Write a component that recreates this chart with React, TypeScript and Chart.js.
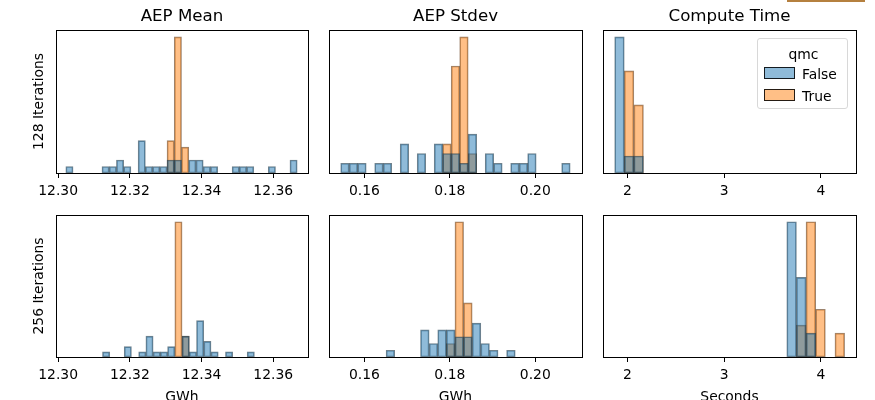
import React, { useEffect, useRef } from 'react';
import { Chart, registerables } from 'chart.js';

Chart.register(...registerables);

const FONT = "'DejaVu Sans', sans-serif";

// ---- text ----
const colTitles = ['AEP Mean', 'AEP Stdev', 'Compute Time'];
const rowLabels = ['128 Iterations', '256 Iterations'];
const xAxisLabels = ['GWh', 'GWh', 'Seconds'];
const legendTitle = 'qmc';
const hueLabels = ['False', 'True'];

// ---- x axes (shared per column) ----
const xLimMean = [12.2994, 12.3697];
const xLimStdev = [0.15172, 0.21093];
const xLimTime = [1.748, 4.363];
const xTicksMean = [12.3, 12.32, 12.34, 12.36];
const xTicksStdev = [0.16, 0.18, 0.2];
const xTicksTime = [2, 3, 4];
const xTickLabelsMean = ['12.30', '12.32', '12.34', '12.36'];
const xTickLabelsStdev = ['0.16', '0.18', '0.20'];
const xTickLabelsTime = ['2', '3', '4'];

// ---- histogram bins (first bin edge, bin width) ----
const bins128Mean = [12.30214, 0.002017];
const bins128Stdev = [0.15446, 0.001989];
const bins128Time = [1.8687, 0.099];
const bins256Mean = [12.31237, 0.002018];
const bins256Stdev = [0.16508, 0.002015];
const bins256Time = [3.6476, 0.0996];

// ---- counts per bin, qmc = False / True ----
const mean128False = [1, 0, 0, 0, 0, 1, 1, 2, 1, 0, 5, 1, 1, 1, 2, 2, 0, 2, 2, 1, 1, 0, 0, 1, 1, 1, 0, 0, 1, 0, 0, 2];
const mean128True = [0, 0, 0, 0, 0, 0, 0, 0, 0, 0, 0, 0, 0, 0, 5, 21, 4, 0, 0, 0, 0, 0, 0, 0, 0, 0, 0, 0, 0, 0, 0, 0];
const stdev128False = [1, 1, 1, 0, 1, 1, 0, 3, 0, 2, 0, 3, 2, 2, 1, 4, 0, 2, 1, 0, 1, 1, 2, 0, 0, 0, 1];
const stdev128True = [0, 0, 0, 0, 0, 0, 0, 0, 0, 0, 0, 0, 3, 11, 14, 2, 0, 0, 0, 0, 0, 0, 0, 0, 0, 0, 0];
const time128False = [24, 3, 3];
const time128True = [0, 18, 12];
const mean256False = [1, 0, 0, 2, 0, 1, 4, 1, 1, 2, 0, 4, 1, 7, 3, 1, 0, 1, 0, 0, 1];
const mean256True = [0, 0, 0, 0, 0, 0, 0, 0, 0, 0, 26, 4, 0, 0, 0, 0, 0, 0, 0, 0, 0];
const stdev256False = [1, 0, 0, 0, 4, 2, 4, 4, 3, 3, 5, 2, 1, 0, 1];
const stdev256True = [0, 0, 0, 0, 0, 0, 0, 2, 20, 8, 0, 0, 0, 0, 0];
const time256False = [17, 10, 3, 0, 0, 0];
const time256True = [0, 4, 17, 6, 0, 3];

const columns = [
  { lim: xLimMean, ticks: xTicksMean, labels: xTickLabelsMean },
  { lim: xLimStdev, ticks: xTicksStdev, labels: xTickLabelsStdev },
  { lim: xLimTime, ticks: xTicksTime, labels: xTickLabelsTime },
];
const panels = [
  [
    { bins: bins128Mean, f: mean128False, t: mean128True },
    { bins: bins128Stdev, f: stdev128False, t: stdev128True },
    { bins: bins128Time, f: time128False, t: time128True },
  ],
  [
    { bins: bins256Mean, f: mean256False, t: mean256True },
    { bins: bins256Stdev, f: stdev256False, t: stdev256True },
    { bins: bins256Time, f: time256False, t: time256True },
  ],
];

// ---- layout (styling) ----
const frameL = [56, 329, 603];
const frameW = [252, 253, 253];
const frameT = [30, 215];
const frameH = [143, 142];
const PAD_L = 50, PAD_T = 30, PAD_R = 20, PAD_B = 50;
const Y_TITLE_W = 25;

const BLUE_FILL = 'rgba(31,119,180,0.5)';
const ORANGE_FILL = 'rgba(255,127,14,0.5)';
const BLUE_EDGE = 'rgba(25,53,71,0.62)';
const ORANGE_EDGE = 'rgba(95,55,20,0.62)';

const framePlugin = {
  id: 'frame',
  afterDatasetsDraw(chart: any) {
    const { ctx, chartArea: a } = chart;
    ctx.save();
    ctx.strokeStyle = '#000';
    ctx.lineWidth = 1;
    ctx.strokeRect(Math.round(a.left) + 0.5, Math.round(a.top) + 0.5, Math.round(a.right - a.left), Math.round(a.bottom - a.top));
    ctx.restore();
  },
};

function Panel({ row, col }: { row: number; col: number }) {
  const ref = useRef<HTMLCanvasElement>(null);
  const cw = PAD_L + frameW[col] + PAD_R;
  const ch = PAD_T + frameH[row] + PAD_B;
  useEffect(() => {
    const p = panels[row][col];
    const c = columns[col];
    const [start, width] = p.bins;
    const centers = p.f.map((_: number, i: number) => start + width * (i + 0.5));
    const toData = (arr: number[]) => arr.map((v, i) => ({ x: centers[i], y: v === 0 ? null : v }));
    const yMax = Math.max(...p.f, ...p.t) * 1.05;
    const tickFont = { family: FONT, size: 13.9 };
    const chart = new Chart(ref.current as HTMLCanvasElement, {
      type: 'bar',
      data: {
        datasets: [
          {
            label: hueLabels[0],
            data: toData(p.f) as any,
            backgroundColor: BLUE_FILL,
            borderColor: BLUE_EDGE,
            borderWidth: 1,
            borderSkipped: false,
            grouped: false,
            barPercentage: 1,
            categoryPercentage: 1,
          },
          {
            label: hueLabels[1],
            data: toData(p.t) as any,
            backgroundColor: ORANGE_FILL,
            borderColor: ORANGE_EDGE,
            borderWidth: 1,
            borderSkipped: false,
            grouped: false,
            barPercentage: 1,
            categoryPercentage: 1,
          },
        ],
      },
      options: {
        responsive: false,
        animation: false,
        devicePixelRatio: 1,
        layout: {
          padding: {
            left: col === 0 ? PAD_L - Y_TITLE_W : PAD_L,
            right: PAD_R,
            top: row === 0 ? 0 : PAD_T,
            bottom: 0,
          },
        },
        plugins: {
          legend: { display: false },
          tooltip: { enabled: false },
          title: {
            display: row === 0,
            text: colTitles[col],
            color: '#000',
            font: { family: FONT, size: 16.67, weight: 'normal' },
            padding: { top: 6.5, bottom: 3.5 },
            fullSize: false,
          } as any,
        },
        scales: {
          x: {
            type: 'linear',
            min: c.lim[0],
            max: c.lim[1],
            offset: false,
            afterBuildTicks: (s: any) => {
              s.ticks = c.ticks.map((v) => ({ value: v }));
            },
            afterFit: (s: any) => {
              s.height = PAD_B;
            },
            grid: {
              display: true,
              drawOnChartArea: false,
              drawTicks: true,
              tickLength: 5,
              tickColor: '#000',
              offset: false,
              lineWidth: 1,
            },
            border: { display: false },
            ticks: {
              padding: 5,
              color: '#000',
              font: tickFont,
              maxRotation: 0,
              autoSkip: false,
              callback: (v: any) => {
                const i = c.ticks.findIndex((t) => Math.abs(t - Number(v)) < 1e-9);
                return i >= 0 ? c.labels[i] : '';
              },
            },
            title: {
              display: row === 1,
              text: xAxisLabels[col],
              color: '#000',
              font: tickFont,
              padding: { top: 0, bottom: 1.5 },
            },
          },
          y: {
            type: 'linear',
            min: 0,
            max: yMax,
            afterFit: (s: any) => {
              s.width = col === 0 ? Y_TITLE_W : 0;
            },
            grid: { display: false },
            border: { display: false },
            ticks: { display: false },
            title: {
              display: col === 0,
              text: rowLabels[row],
              color: '#000',
              font: tickFont,
              padding: { top: 0, bottom: 0 },
            },
          },
        },
      } as any,
      plugins: [framePlugin],
    });
    return () => chart.destroy();
  }, [row, col]);
  return (
    <canvas
      ref={ref}
      width={cw}
      height={ch}
      style={{
        position: 'absolute',
        left: frameL[col] - PAD_L,
        top: frameT[row] - PAD_T,
        width: cw,
        height: ch,
      }}
    />
  );
}

function Legend() {
  const text: React.CSSProperties = {
    position: 'absolute',
    fontFamily: FONT,
    fontSize: 13.9,
    lineHeight: '16.2px',
    color: '#000',
    whiteSpace: 'nowrap',
  };
  const sw: React.CSSProperties = {
    position: 'absolute',
    left: 6,
    width: 31,
    height: 12,
    boxSizing: 'border-box',
    border: '1px solid rgba(0,0,0,0.85)',
  };
  return (
    <div
      style={{
        position: 'absolute',
        left: 757,
        top: 38,
        width: 91,
        height: 71,
        boxSizing: 'border-box',
        border: '1px solid #d8d8d8',
        borderRadius: 3,
        background: 'rgba(255,255,255,0.8)',
      }}
    >
      <span style={{ ...text, left: 0, width: 91, textAlign: 'center', top: 6.5 }}>{legendTitle}</span>
      <div style={{ ...sw, top: 28, background: BLUE_FILL }} />
      <span style={{ ...text, left: 44, top: 26.5 }}>{hueLabels[0]}</span>
      <div style={{ ...sw, top: 50, background: ORANGE_FILL }} />
      <span style={{ ...text, left: 44, top: 48.5 }}>{hueLabels[1]}</span>
    </div>
  );
}

export default function App() {
  return (
    <div
      style={{
        position: 'absolute',
        left: 0,
        top: 0,
        width: 875,
        height: 400,
        overflow: 'hidden',
        background: '#fff',
      }}
    >
      <div style={{ position: 'absolute', left: 787, top: 0, width: 78, height: 2, background: '#b5803f' }} />
      {[0, 1].map((r) => [0, 1, 2].map((c) => <Panel key={`${r}-${c}`} row={r} col={c} />))}
      <Legend />
    </div>
  );
}
